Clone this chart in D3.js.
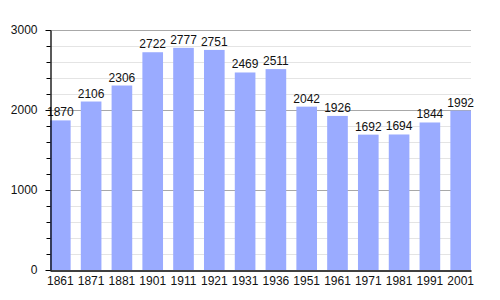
<!DOCTYPE html>
<html>
<head>
<meta charset="utf-8">
<script src="https://cdn.jsdelivr.net/npm/d3@7"></script>
<style>
  body { margin: 0; background: #fff; }
  text { font-family: "Liberation Sans", Arial, sans-serif; }
</style>
</head>
<body>
<div id="chart"></div>
<script>
const years = ["1861", "1871", "1881", "1901", "1911", "1921", "1931", "1936", "1951", "1961", "1971", "1981", "1991", "2001"];
const population = [1870, 2106, 2306, 2722, 2777, 2751, 2469, 2511, 2042, 1926, 1692, 1694, 1844, 1992];
const yTicks = [0, 1000, 2000, 3000];
const yMinor = d3.range(0, 3001, 200);

const data = years.map((y, i) => ({ year: y, value: population[i] }));

const svg = d3.select("#chart")
    .append("svg")
    .attr("width", 500)
    .attr("height", 300);

const x = d3.scaleBand()
    .domain(years)
    .range([50, 471])
    .paddingInner(0.33)
    .paddingOuter(0);

const y = d3.scaleLinear()
    .domain([0, 3000])
    .range([270, 30]);

// grid lines
svg.append("g")
    .selectAll("line")
    .data(yMinor.filter(d => d > 0))
    .enter()
    .append("line")
    .attr("x1", 50)
    .attr("x2", 471)
    .attr("y1", d => y(d) + 0.5)
    .attr("y2", d => y(d) + 0.5)
    .attr("stroke", d => d % 1000 === 0 ? "#a8a8a8" : "#e4e4e4")
    .attr("stroke-width", d => d % 1000 === 0 ? 1.2 : 1);

// bars
svg.selectAll(".bar")
    .data(data)
    .enter()
    .append("rect")
    .attr("class", "bar")
    .attr("x", d => x(d.year))
    .attr("y", d => y(d.value))
    .attr("width", x.bandwidth())
    .attr("height", d => y(0) - y(d.value))
    .style("fill", "#9aabff");

// value labels
svg.selectAll(".lbl")
    .data(data)
    .enter()
    .append("text")
    .attr("class", "lbl")
    .attr("x", d => x(d.year) + x.bandwidth() / 2)
    .attr("y", d => y(d.value) - 4)
    .attr("text-anchor", "middle")
    .style("font-size", "12px")
    .style("fill", "#111")
    .text(d => d.value);

// y axis minor ticks
svg.append("g")
    .attr("transform", "translate(50.5,0)")
    .call(d3.axisLeft(y).tickValues(yMinor).tickSize(4).tickFormat(""))
    .call(g => g.select(".domain").remove());

// y axis
svg.append("g")
    .attr("transform", "translate(50.5,0)")
    .call(d3.axisLeft(y).tickValues(yTicks).tickSize(5).tickSizeOuter(0).tickPadding(8).tickFormat(d3.format("d")))
    .call(g => g.selectAll("text").style("font-size", "12px").style("fill", "#111"))
    .call(g => g.select(".domain").attr("stroke-width", 1.3));

// x axis
svg.append("g")
    .attr("transform", "translate(0,270.5)")
    .call(d3.axisBottom(x).tickSize(0).tickPadding(6))
    .call(g => g.selectAll("text").style("font-size", "12px").style("fill", "#111"))
    .call(g => g.select(".domain").attr("stroke-width", 1.3));
</script>
</body>
</html>
